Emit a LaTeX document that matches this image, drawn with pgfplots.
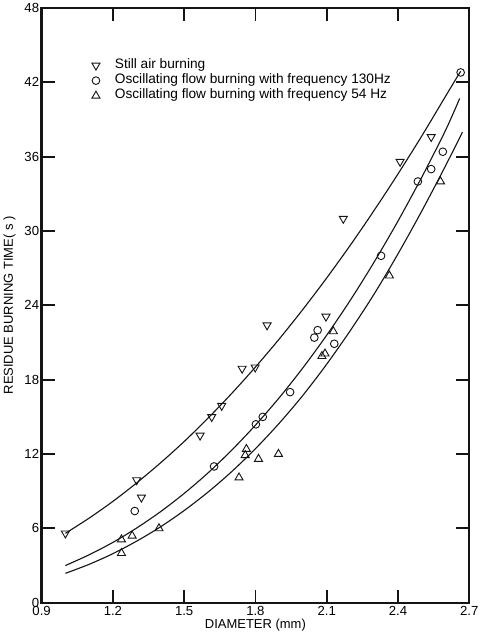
\documentclass[border=0pt]{standalone}
\usepackage{pgfplots}
\pgfplotsset{compat=1.18}
\usepackage{fontspec}
\setmainfont{Liberation Sans}

% Measured residue burning times
\pgfplotstableread{
d t
1.000 5.6
1.300 9.9
1.320 8.5
1.567 13.5
1.616 15.0
1.658 15.9
1.744 18.9
1.799 19.0
1.849 22.4
2.097 23.1
2.170 31.0
2.409 35.6
2.540 37.6
}\stillair

\pgfplotstableread{
d t
1.292 7.4
1.626 11.0
1.802 14.4
1.831 15.0
1.946 17.0
2.048 21.4
2.062 22.0
2.132 20.9
2.329 28.0
2.484 34.0
2.540 35.0
2.589 36.4
2.664 42.8
}\osctwo

\pgfplotstableread{
d t
1.236 4.0
1.236 5.1
1.281 5.4
1.394 6.0
1.731 10.1
1.757 11.9
1.762 12.4
1.813 11.6
1.897 12.0
2.080 19.9
2.093 20.1
2.128 21.9
2.364 26.4
2.579 34.0
}\oscone

% Fitted curves
\pgfplotstableread{
d t
1.00 5.60
1.10 6.83
1.20 8.18
1.30 9.67
1.40 11.28
1.50 13.01
1.60 14.89
1.70 16.89
1.80 19.02
1.90 21.28
2.00 23.68
2.10 26.21
2.20 28.87
2.30 31.67
2.40 34.60
2.50 37.66
2.60 40.86
2.664 42.90
}\fitstill

\pgfplotstableread{
d t
1.00 3.00
1.10 3.87
1.20 4.87
1.30 6.03
1.40 7.34
1.50 8.82
1.60 10.47
1.70 12.31
1.80 14.33
1.90 16.54
2.00 18.96
2.10 21.59
2.20 24.43
2.30 27.50
2.40 30.80
2.50 34.33
2.60 38.11
2.66 40.70
}\fittwo

\pgfplotstableread{
d t
1.00 2.37
1.10 3.10
1.20 3.96
1.30 4.97
1.40 6.12
1.50 7.44
1.60 8.92
1.70 10.58
1.80 12.43
1.90 14.48
2.00 16.74
2.10 19.25
2.20 21.98
2.30 24.92
2.40 28.15
2.50 31.60
2.60 35.25
2.672 38.00
}\fitone

\definecolor{ink}{RGB}{20,20,20}

\pgfplotsset{
  scat/.style={only marks,
    legend image code/.code={%
      \path (0pt,0pt) (25pt,0pt);
      \draw[mark repeat=2,mark phase=2,##1] plot coordinates {(0pt,0pt) (8pt,0pt) (16pt,0pt)};}},
  frame/.style={scale only axis,
    xmin=0.9, xmax=2.7, ymin=0, ymax=48,
    xtick={0.9,1.2,1.5,1.8,2.1,2.4,2.7},
    xticklabels={0.9,1.2,1.5,1.8,2.1,2.4,2.7},
    ytick={0,6,12,18,24,30,36,42,48},
    yticklabels={0,6,12,18,24,30,36,42,48},
    major tick length=13pt,
    axis line style={ink, line width=2.4pt},
    tick style={ink, line width=1.8pt}},
}

\begin{document}
\begin{tikzpicture}
\begin{axis}[frame,
  at={(0,0)}, anchor=south west,
  width=422pt, height=587pt,
  tick label style={font=\fontsize{13}{15}\selectfont},
  yticklabel style={xshift=1pt},
  label style={font=\fontsize{12.8}{15}\selectfont},
  xlabel={DIAMETER (mm)},
  xlabel style={yshift=3pt},
  ylabel={RESIDUE BURNING TIME( s )},
  ylabel style={yshift=2pt},
  legend style={draw=none, fill=none, at={(rel axis cs:0.10,0.92)}, anchor=north west,
    font=\fontsize{13.5}{15}\selectfont, row sep=0pt,
    nodes={inner sep=1.5pt, text height=9pt, text depth=3pt}},
  legend cell align=left,
]
\addplot[ink, line width=1.1pt, smooth, forget plot] table {\fitstill};
\addplot[ink, line width=1.1pt, smooth, forget plot] table {\fittwo};
\addplot[ink, line width=1.1pt, smooth, forget plot] table {\fitone};

\addplot[scat, mark=triangle, mark size=4.6pt, mark options={ink, line width=0.9pt, rotate=180}] table {\stillair};
\addlegendentry{Still air burning}
\addplot[scat, mark=o, mark size=3.8pt, mark options={ink, line width=0.9pt}] table {\osctwo};
\addlegendentry{Oscillating flow burning with frequency 130Hz}
\addplot[scat, mark=triangle, mark size=4.6pt, mark options={ink, line width=0.9pt}] table {\oscone};
\addlegendentry{Oscillating flow burning with frequency 54 Hz}
\end{axis}
\end{tikzpicture}
\end{document}
